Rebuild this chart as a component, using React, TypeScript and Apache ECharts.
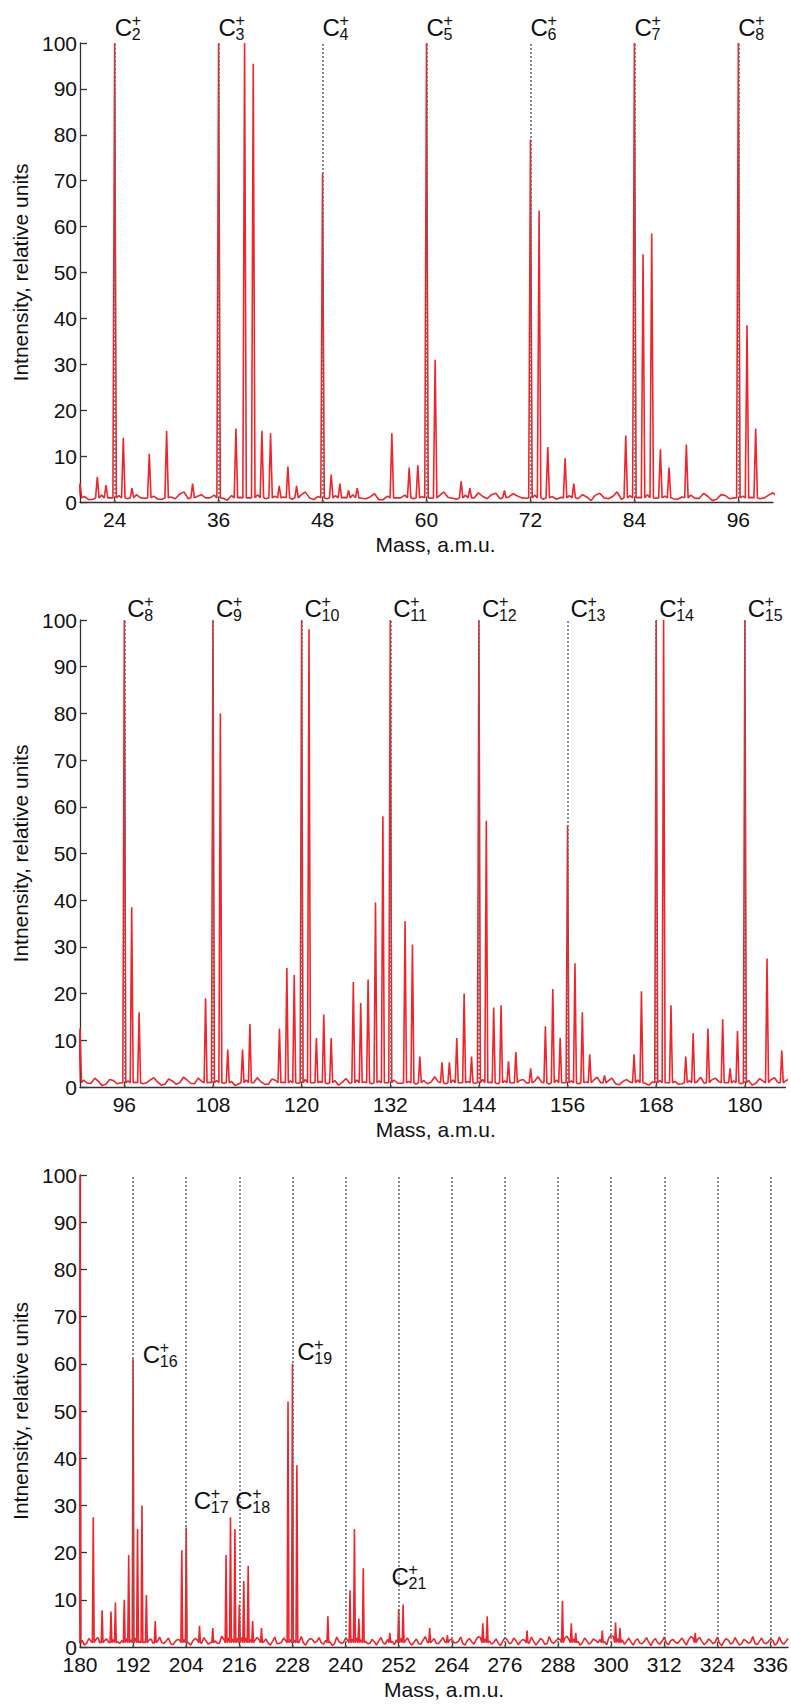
import React, { useEffect, useRef } from 'react';
import * as echarts from 'echarts';

// ---------- DATA ----------
// Baseline noise, sampled at half-integer masses, first sample at 20.5
const baselineHalfStart = 20.5;
const baselineHalf = [
  1.2, 0.6, 1.5, 0.9, 1.4, 0.7, 1.6, 0.8, 1.3, 0.6,
  1.1, 1.7, 0.7, 1.2, 0.9, 1.5, 0.8, 1.4, 1.0, 0.9,
  1.6, 0.7, 1.3, 1.1, 0.6, 1.5, 0.9, 1.2, 0.7, 1.4,
  1.0, 1.6, 0.8, 1.1, 0.5, 1.3, 0.9, 1.5, 0.7, 1.2,
  0.8, 1.4, 1.0, 0.6, 1.5, 0.9, 1.2, 1.6, 0.7, 1.1,
  1.3, 0.8, 1.5, 0.6, 1.2, 1.0, 1.4, 0.7, 1.1, 1.5,
  0.9, 1.2, 0.6, 1.4, 1.0, 1.6, 0.8, 1.3, 0.7, 1.1,
  1.5, 0.8, 1.2, 0.6, 1.4, 0.9, 1.3, 1.0, 0.7, 1.5,
  1.1, 0.6, 1.3, 0.9, 1.5, 0.7, 1.2, 1.0, 1.4, 0.8,
  1.2, 0.7, 1.5, 0.9, 1.1, 0.6, 1.4, 1.0, 1.3, 0.8,
  1.6, 0.9, 1.2, 0.7, 1.4, 1.0, 0.8, 1.5, 1.1, 0.7,
  1.3, 0.9, 1.5, 0.8, 1.2, 0.6, 1.4, 1.0, 1.1, 0.7,
  1.5, 0.9, 1.2, 0.8, 1.6, 1.0, 0.7, 1.3, 0.9, 1.4,
  0.8, 1.2, 1.0, 0.6, 1.5, 0.9, 1.3, 0.7, 1.1, 1.4,
  0.9, 1.3, 0.7, 1.2, 1.0, 1.5, 0.8, 1.1, 1.4, 0.9,
  1.2, 0.7, 1.4, 1.0, 0.8, 1.5, 1.1, 0.9, 1.3, 0.7,
  1.4, 0.8, 1.2, 1.5, 0.9, 1.3, 1.0, 1.6, 1.1, 1.4,
  1.8, 1.5, 1.9, 1.2, 1.0, 1.4, 0.8, 1.2, 0.9, 1.3,
  0.7, 1.1, 1.5, 1.6, 0.9, 1.3, 1.5, 0.8, 1.2, 1.0,
  1.3, 0.8, 1.6, 1.9, 1.7, 1.8, 2.0, 1.9, 1.6, 1.4,
  1.5, 1.1, 0.8, 1.2, 0.7, 1.0, 1.3, 1.6, 1.4, 1.0,
  0.8, 1.3, 1.6, 1.2, 0.9, 1.4, 1.1, 0.7, 1.2, 0.9,
  1.4, 1.7, 1.9, 1.5, 1.2, 0.8, 1.1, 1.3, 0.9, 1.6,
  1.2, 1.5, 1.8, 1.3, 0.9, 1.1, 0.7, 1.4, 1.0, 1.2,
  0.8, 1.3, 1.0, 1.5, 0.9, 1.2, 0.7, 1.4, 1.1, 1.6,
  1.9, 1.7, 1.3, 1.0, 0.8, 1.2, 1.5, 0.9, 1.3, 1.1,
  1.4, 0.8, 1.2, 1.0, 1.5, 0.7, 1.1, 1.3, 1.6, 1.8,
  1.5, 1.7, 1.2, 0.9, 1.3, 1.0, 1.4, 1.6, 1.1, 2.0,
  2.2, 1.8, 1.5, 1.2, 1.0, 1.4, 0.8, 1.2, 1.0, 1.3,
  0.9, 1.2, 0.8, 1.4, 1.0, 1.3, 1.1, 1.5, 1.9, 1.6,
  1.2, 0.9, 1.3, 1.0, 0.8, 1.2, 1.4, 0.9, 1.1, 0.7,
  1.3, 1.0, 0.8, 1.2, 0.9, 1.1, 1.4, 0.8, 1.0, 1.2,
];
// Baseline noise, sampled at integer masses, first sample at 21 (unused where a peak sits)
const baselineIntStart = 21;
const baselineInt = [
  0.5, 1.9, 0.8, 2.1, 0.4, 1.7, 0.9, 2.0, 0.6, 1.8,
  0.7, 2.2, 0.5, 1.6, 0.9, 2.0, 0.4, 1.8, 0.8, 2.1,
  0.6, 1.9, 0.3, 1.7, 1.0, 2.2, 0.5, 1.6, 0.8, 1.9,
  0.4, 2.0, 0.7, 1.8, 0.5, 2.1, 0.9, 1.7, 0.3, 1.9,
  0.6, 2.2, 0.8, 1.6, 0.4, 2.0, 0.7, 1.9, 0.5, 1.8,
  0.9, 2.1, 0.4, 1.7, 0.6, 2.0, 0.8, 1.6, 0.3, 1.9,
  0.7, 2.2, 0.5, 1.8, 0.9, 2.0, 0.4, 1.7, 0.6, 2.1,
  0.8, 1.9, 0.3, 1.6, 0.7, 2.2, 0.5, 1.8, 0.9, 2.0,
  0.4, 1.7, 0.6, 2.1, 0.8, 1.9, 0.5, 1.6, 0.7, 2.2,
  0.3, 1.8, 0.9, 2.0, 0.6, 1.7, 0.4, 2.1, 0.8, 1.9,
  0.5, 1.6, 0.7, 2.2, 0.4, 1.8, 0.9, 2.0, 0.6, 1.7,
  0.3, 2.1, 0.8, 1.9, 0.5, 1.6, 0.7, 2.2, 0.4, 1.8,
  0.9, 2.0, 0.6, 1.7, 0.3, 2.1, 0.8, 1.9, 0.5, 1.6,
  0.7, 2.2, 0.4, 1.8, 0.9, 2.0, 0.6, 1.7, 0.3, 2.1,
  0.8, 1.9, 0.5, 1.6, 0.7, 2.2, 0.4, 1.8, 0.9, 2.0,
  0.6, 1.7, 0.3, 2.1, 0.8, 1.9, 0.5, 1.6, 0.7, 2.2,
  0.4, 1.8, 0.9, 2.0, 0.6, 1.7, 0.3, 2.1, 0.8, 2.3,
  1.0, 2.4, 0.9, 2.0, 0.6, 1.7, 0.4, 2.1, 0.8, 1.9,
  0.5, 1.6, 0.7, 2.2, 0.4, 1.8, 0.9, 2.0, 0.6, 1.7,
  0.8, 2.3, 1.0, 2.4, 1.1, 2.2, 0.9, 2.4, 0.8, 2.0,
  0.6, 1.7, 0.4, 2.1, 0.8, 1.9, 0.5, 1.6, 0.7, 2.2,
  0.4, 1.8, 0.9, 2.0, 0.6, 1.7, 0.3, 2.1, 0.8, 1.9,
  0.9, 2.3, 1.0, 2.2, 0.7, 1.6, 0.4, 2.0, 0.6, 1.8,
  0.5, 2.1, 0.8, 1.9, 0.4, 1.7, 0.6, 2.2, 0.3, 1.8,
  0.7, 2.0, 0.5, 1.6, 0.9, 2.1, 0.4, 1.8, 0.6, 2.2,
  0.8, 2.4, 0.6, 1.7, 0.3, 2.0, 0.7, 1.9, 0.5, 1.6,
  0.9, 2.1, 0.4, 1.8, 0.6, 2.2, 0.8, 1.7, 0.5, 2.3,
  0.7, 2.0, 0.4, 1.9, 0.6, 1.7, 0.9, 2.1, 0.5, 2.4,
  0.8, 2.2, 0.6, 1.9, 0.4, 1.7, 0.7, 2.0, 0.3, 1.8,
  0.6, 2.1, 0.5, 1.6, 0.8, 1.9, 0.4, 2.2, 0.9, 2.0,
  0.5, 1.7, 0.7, 2.1, 0.3, 1.8, 0.6, 2.0, 0.4, 1.6,
  0.8, 2.2, 0.5, 1.9, 0.7, 1.7, 0.4, 2.1, 0.6, 1.8,
];

// Peaks: mass (a.m.u.) and intensity (relative units, clipped at 100)
const peakMass = [
  20, 22, 23, 24, 25, 26, 28, 30, 33, 36, 38, 39, 40, 41, 42, 43, 44, 45, 48, 49,
  50, 51, 52, 56, 58, 59, 60, 61, 64, 65, 69, 72, 73, 74, 76, 77, 83, 84, 85, 86,
  87, 88, 90, 96, 97, 98, 107, 108, 109, 110, 112, 113, 117, 118, 119, 120, 121, 122, 123, 124,
  127, 128, 129, 130, 131, 132, 134, 135, 136, 139, 140, 141, 142, 143, 144, 145, 146, 147, 148, 149,
  151, 153, 154, 155, 156, 157, 158, 159, 161, 165, 166, 168, 169, 170, 172, 173, 175, 177, 178, 179,
  180, 183, 185, 187, 188, 190, 191, 192, 193, 194, 195, 197, 203, 204, 207, 210, 213, 214, 215, 216,
  217, 218, 219, 221, 227, 228, 229, 236, 241, 242, 243, 244, 250, 252, 253, 259, 263, 271, 272, 281,
  289, 291, 292, 298, 301, 302, 319,
];
const peakHeight = [
  4, 5.5, 3.7, 100, 14, 3, 10.5, 15.5, 4, 100, 16, 100, 95.5, 15.5, 15, 3.5, 7.7, 3.5, 71.5, 6,
  4, 2.5, 3, 15, 7.5, 8, 100, 31, 4.5, 3, 2.5, 79, 63.5, 12, 9.5, 4, 14.5, 100, 54, 58.5,
  11.5, 7.5, 12.5, 100, 38.5, 16, 19, 100, 80, 8, 8, 13.5, 12.5, 25.5, 24, 100, 98, 10.5, 15.5, 10.5,
  22.5, 18, 23, 39.5, 58, 100, 35.5, 30.5, 6.5, 5.3, 5.3, 10.5, 20, 6.5, 100, 57, 17, 17.5, 5.5, 7.5,
  4, 13, 21, 10.5, 56, 26.5, 16, 7, 2.5, 7, 20.5, 100, 100, 17.5, 6.5, 11.5, 12.5, 14.5, 4, 12,
  100, 27.5, 7.8, 7.5, 9.4, 10, 19.5, 61, 25, 30, 11, 5.5, 20.5, 25.3, 4.5, 4, 19.5, 27.5, 25, 9,
  14, 17.2, 5.5, 4, 52, 60, 38.5, 6.5, 12, 25, 6, 16.7, 3, 8, 9, 4, 2.5, 5, 6.5, 3.5,
  9.8, 5, 3, 3.5, 5.2, 4, 3,
];

// Axis ticks (a.m.u.)
const p1Ticks = [24, 36, 48, 60, 72, 84, 96];
const p2Ticks = [96, 108, 120, 132, 144, 156, 168, 180];
const p3Ticks = [180, 192, 204, 216, 228, 240, 252, 264, 276, 288, 300, 312, 324, 336];

// Panel ranges (a.m.u.)
const p1Range = [20, 100];
const p2Range = [90, 185.5];
const p3Range = [180, 340];

// Carbon cluster ion labels C_n^+
const p1Ions = [2, 3, 4, 5, 6, 7, 8];
const p2Ions = [8, 9, 10, 11, 12, 13, 14, 15];
const p3IonN = [16, 17, 18, 19, 21];
const p3IonMass = [194.2, 205.7, 215.1, 229.1, 250.4];
const p3IonValue = [62, 31, 31, 62.6, 15];

// ---------- STYLE ----------
const FONT = '"Liberation Sans", Arial, Helvetica, sans-serif';
const RED = '#f0242a';
const AXIS = '#333';
const PEAK_HALF = 0.2;
const PEAK_FOOT = 0.9;

function buildSpectrum(): [number, number][] {
  const pts: [number, number][] = [];
  const peakSet = new Set(peakMass);
  baselineHalf.forEach((v, i) => pts.push([baselineHalfStart + i, v]));
  baselineInt.forEach((v, i) => {
    const m = baselineIntStart + i;
    if (!peakSet.has(m)) pts.push([m, v]);
  });
  peakMass.forEach((m, i) => {
    pts.push([m - PEAK_HALF, PEAK_FOOT], [m, peakHeight[i]], [m + PEAK_HALF, PEAK_FOOT]);
  });
  pts.sort((a, b) => a[0] - b[0]);
  return pts;
}

function labelRenderer(dx: number, dy: number) {
  return (params: any, api: any) => {
    const m = api.value(0);
    const v = api.value(1);
    const n = api.value(2);
    const p = api.coord([m, v]);
    const x = p[0] + dx;
    const y = p[1] + dy;
    const base = { fill: '#111', textAlign: 'left', textVerticalAlign: 'middle' };
    return {
      type: 'group',
      children: [
        { type: 'text', x, y, style: { ...base, text: 'C', font: `24px ${FONT}` } },
        { type: 'text', x: x + 17, y: y - 7, style: { ...base, text: '+', font: `16px ${FONT}` } },
        { type: 'text', x: x + 17, y: y + 7, style: { ...base, text: String(n), font: `16px ${FONT}` } },
      ],
    };
  };
}

export default function App() {
  const ref = useRef<HTMLDivElement>(null);
  useEffect(() => {
    if (!ref.current) return;
    const chart = echarts.init(ref.current, undefined, { renderer: 'svg' });
    const spectrum = buildSpectrum();
    const grids = [
      { left: 80, top: 43, width: 693, height: 459 },
      { left: 80, top: 620, width: 705.5, height: 467 },
      { left: 80, top: 1175, width: 710, height: 472 },
    ];
    const ranges = [p1Range, p2Range, p3Range];
    const ticks = [p1Ticks, p2Ticks, p3Ticks];
    const textStyle = { fontSize: 21, color: '#111', fontFamily: FONT };
    const nameShift = [18, 6, 20];

    const xAxis = grids.map((_, i) => ({
      type: 'value',
      gridIndex: i,
      min: ranges[i][0],
      max: ranges[i][1],
      axisLine: { show: true, onZero: false, lineStyle: { color: AXIS, width: 1.3 } },
      axisTick: { show: true, inside: true, length: 5, customValues: ticks[i], lineStyle: { color: AXIS, width: 1.3 } },
      axisLabel: { ...textStyle, customValues: ticks[i], margin: 7 },
      splitLine: { show: false },
      name: 'Mass, a.m.u.',
      nameLocation: 'middle',
      nameGap: 32,
      nameTextStyle: { ...textStyle, padding: [0, 0, 0, nameShift[i]] },
    }));
    const yAxis = grids.map((_, i) => ({
      type: 'value',
      gridIndex: i,
      min: 0,
      max: 100,
      interval: 10,
      axisLine: { show: true, lineStyle: { color: AXIS, width: 1.3 } },
      axisTick: { show: true, inside: true, length: 7, lineStyle: { color: AXIS, width: 1.3 } },
      axisLabel: { ...textStyle, margin: 3 },
      splitLine: { show: false },
      name: 'Intnensity, relative units',
      nameLocation: 'middle',
      nameGap: 46,
      nameRotate: 90,
      nameTextStyle: textStyle,
    }));

    const series: any[] = [];
    const markers = [p1Ticks, p2Ticks, p3Ticks.slice(1)];
    grids.forEach((_, i) => {
      series.push({
        type: 'line',
        xAxisIndex: i,
        yAxisIndex: i,
        data: spectrum,
        symbol: 'none',
        clip: true,
        lineStyle: { color: RED, width: 1.6 },
        z: 2,
      });
      series.push({
        type: 'line',
        xAxisIndex: i,
        yAxisIndex: i,
        data: [],
        z: 4,
        markLine: {
          silent: true,
          symbol: 'none',
          label: { show: false },
          lineStyle: { type: [2, 2], color: '#666', width: 1.5 },
          data: markers[i].map((m) => ({ xAxis: m })),
        },
      });
    });
    series.push({
      type: 'custom',
      xAxisIndex: 0,
      yAxisIndex: 0,
      z: 5,
      data: p1Ions.map((n) => [12 * n, 100, n]),
      renderItem: labelRenderer(0, -16),
    });
    series.push({
      type: 'custom',
      xAxisIndex: 1,
      yAxisIndex: 1,
      z: 5,
      data: p2Ions.map((n) => [12 * n, 100, n]),
      renderItem: labelRenderer(3, -12),
    });
    series.push({
      type: 'custom',
      xAxisIndex: 2,
      yAxisIndex: 2,
      z: 5,
      data: p3IonN.map((n, i) => [p3IonMass[i], p3IonValue[i], n]),
      renderItem: labelRenderer(0, 0),
    });

    chart.setOption({
      animation: false,
      backgroundColor: '#fff',
      grid: grids,
      xAxis,
      yAxis,
      series,
    });
    return () => chart.dispose();
  }, []);
  return (
    <div
      ref={ref}
      style={{ position: 'absolute', left: 0, top: 0, width: 791, height: 1706, background: '#fff' }}
    />
  );
}
